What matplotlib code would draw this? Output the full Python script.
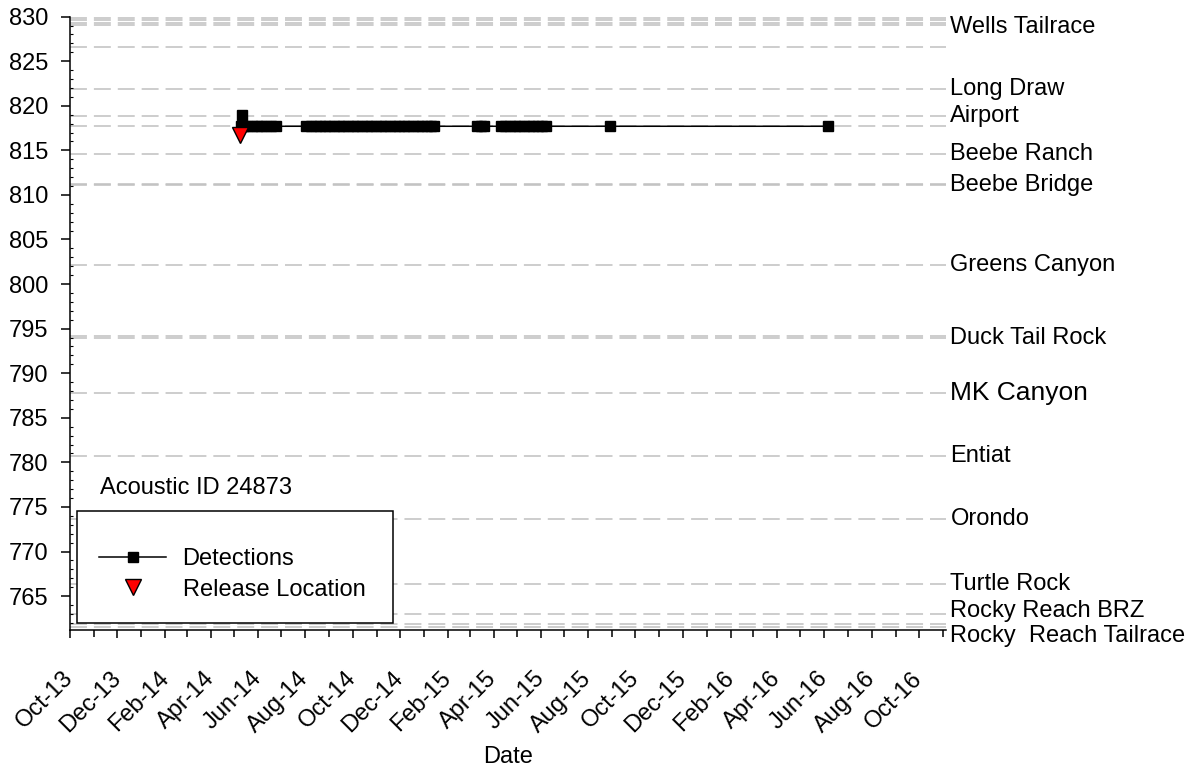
import matplotlib
matplotlib.use("Agg")
import matplotlib.pyplot as plt
import matplotlib.dates as mdates
from matplotlib.ticker import MultipleLocator
from matplotlib.patches import Rectangle
from datetime import datetime

plt.rcParams['font.family'] = ['Liberation Sans', 'DejaVu Sans']
plt.rcParams['font.size'] = 17
plt.rcParams['lines.scale_dashes'] = False

tag_id = "24873"

# sites (river km) with labels on the right
site_names = ["Wells Tailrace", "Long Draw", "Airport", "Beebe Ranch", "Beebe Bridge",
              "Greens Canyon", "Duck Tail Rock", "MK Canyon", "Entiat", "Orondo",
              "Turtle Rock", "Rocky Reach BRZ", "Rocky  Reach Tailrace"]
site_rkm = [829.3, 821.9, 818.9, 814.6, 811.1, 802.1, 794.0, 787.8, 780.7, 773.6,
            766.4, 763.0, 761.9]
# other receiver lines without a label
other_rkm = [829.85, 829.6, 829.05, 826.6, 817.7, 811.25, 794.15, 761.55]

release_date = ["2014-05-08"]
release_rkm = [816.7]

detection_dates = [
    "2014-05-10", "2014-05-11", "2014-05-12", "2014-05-18", "2014-05-24", "2014-05-30",
    "2014-06-05", "2014-06-11", "2014-06-17", "2014-06-24",
    "2014-08-02", "2014-08-08", "2014-08-14", "2014-08-20", "2014-08-26", "2014-09-01",
    "2014-09-07", "2014-09-13", "2014-09-19", "2014-09-25", "2014-10-01", "2014-10-07",
    "2014-10-13", "2014-10-19", "2014-10-25", "2014-10-31", "2014-11-06", "2014-11-12",
    "2014-11-18", "2014-11-24", "2014-11-30", "2014-12-06", "2014-12-12", "2014-12-18",
    "2014-12-24", "2014-12-30", "2015-01-05", "2015-01-10", "2015-01-14",
    "2015-03-11", "2015-03-15", "2015-03-20",
    "2015-04-10", "2015-04-16", "2015-04-22", "2015-04-28", "2015-05-04", "2015-05-10",
    "2015-05-16", "2015-05-22", "2015-05-28", "2015-06-03", "2015-06-07",
    "2015-08-29",
    "2016-06-06",
]
detection_rkm = [
    817.7, 819.0, 817.7, 817.7, 817.7, 817.7,
    817.7, 817.7, 817.7, 817.7,
    817.7, 817.7, 817.7, 817.7, 817.7, 817.7,
    817.7, 817.7, 817.7, 817.7, 817.7, 817.7,
    817.7, 817.7, 817.7, 817.7, 817.7, 817.7,
    817.7, 817.7, 817.7, 817.7, 817.7, 817.7,
    817.7, 817.7, 817.7, 817.7, 817.7,
    817.7, 817.7, 817.7,
    817.7, 817.7, 817.7, 817.7, 817.7, 817.7,
    817.7, 817.7, 817.7, 817.7, 817.7,
    817.7,
    817.7,
]

# label nudges (rkm) where labels would collide
label_nudge = {"Wells Tailrace": -0.5, "Rocky Reach BRZ": 0.3, "Rocky  Reach Tailrace": -1.4}

to_dt = lambda s: datetime.strptime(s, "%Y-%m-%d")

fig = plt.figure(figsize=(12.03, 7.73), dpi=100)
ax = fig.add_axes([70 / 1203, (773 - 630) / 773, 876 / 1203, (630 - 16.6) / 773])

# dashed receiver lines
for r in site_rkm + other_rkm:
    ax.axhline(r, color='#c0c0c0', lw=1.1, dashes=(12.2, 5), zorder=1)

ax.plot([to_dt(d) for d in detection_dates], detection_rkm, color='black', lw=1.1,
        marker='s', markersize=7.2, label='Detections', zorder=3)
ax.plot([to_dt(d) for d in release_date], release_rkm, linestyle='none', marker='v',
        markersize=12, markerfacecolor='red', markeredgecolor='black', markeredgewidth=1,
        label='Release Location', zorder=4)

# site names on the right (MK Canyon is in a wider font in the original)
for nome, r in zip(site_names, site_rkm):
    tam = 19 if nome == "MK Canyon" else 17
    ax.text(1.005, r + label_nudge.get(nome, 0), nome, transform=ax.get_yaxis_transform(),
            ha='left', va='center', clip_on=False, fontsize=tam)

ax.set_xlim(datetime(2013, 10, 1), datetime(2016, 11, 5))
ax.set_ylim(761.2, 830)

ax.xaxis.set_major_locator(mdates.MonthLocator(bymonth=[2, 4, 6, 8, 10, 12]))
ax.xaxis.set_minor_locator(mdates.MonthLocator())
ax.xaxis.set_major_formatter(mdates.DateFormatter('%b-%y'))
ax.yaxis.set_major_locator(MultipleLocator(5))
ax.yaxis.set_minor_locator(MultipleLocator(1))

ax.tick_params(axis='x', which='major', direction='out', length=5.5, width=1.1, pad=27)
ax.tick_params(axis='x', which='minor', direction='out', length=5, width=1.1)
ax.tick_params(axis='y', which='major', direction='out', length=6.5, width=1.1, pad=9)
ax.tick_params(axis='y', which='minor', direction='in', length=2, width=0.8)
for lbl in ax.get_xticklabels():
    lbl.set_rotation(45)
    lbl.set_rotation_mode('anchor')
    lbl.set_ha('right')
    lbl.set_va('center')

for s in ['top', 'right']:
    ax.spines[s].set_visible(False)
for s in ['left', 'bottom']:
    ax.spines[s].set_linewidth(1.1)

ax.set_xlabel('Date', va='center')
ax.xaxis.set_label_coords(0.5, -0.207)

ax.text(0.034, 0.2315, f"Acoustic ID {tag_id}", transform=ax.transAxes, ha='left', va='center')

# legend box
ax.add_patch(Rectangle((0.008, 0.0114), 0.3607, 0.1826, transform=ax.transAxes,
                       facecolor='white', edgecolor='black', lw=1.1, zorder=4.5))
ax.legend(loc='lower left', bbox_to_anchor=(0.008, 0.0114), borderaxespad=0,
          borderpad=0.95, handlelength=2.84, handletextpad=0.68, labelspacing=0.35,
          frameon=False)

fig.savefig('out.png', dpi=100)
